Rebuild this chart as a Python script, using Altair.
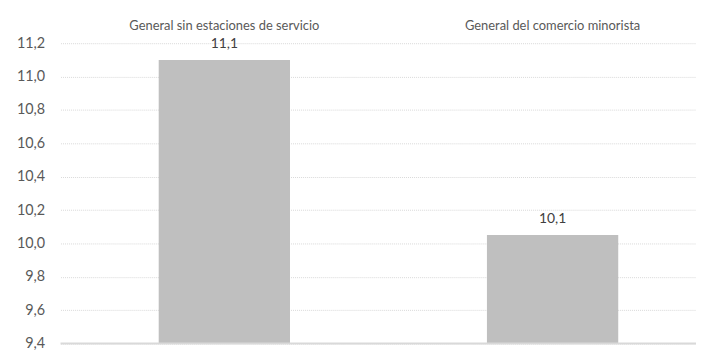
import altair as alt
import pandas as pd

categories = ["General sin estaciones de servicio", "General del comercio minorista"]
values = [11.1, 10.05]
value_labels = ["11,1", "10,1"]
y_ticks = [9.4, 9.6, 9.8, 10.0, 10.2, 10.4, 10.6, 10.8, 11.0, 11.2]

df = pd.DataFrame({"cat": categories, "val": values, "lab": value_labels})

FONT = "Lato"
GRAY_TXT = "#595959"

x_scale = alt.Scale(paddingInner=0.6, paddingOuter=0.268, align=0.558)
x_axis = alt.Axis(
    orient="top", title=None, ticks=False, domain=False, labelAngle=0,
    labelPadding=18, labelFont=FONT, labelFontSize=13, labelColor=GRAY_TXT,
    labelLimit=0, labelOverlap=False, grid=False, labelBaseline="middle",
)
y_scale = alt.Scale(domain=[9.4, 11.2], zero=False, nice=False)
y_axis = alt.Axis(
    values=y_ticks, title=None, ticks=False, domain=False,
    labelExpr="replace(format(datum.value, '.1f'), '.', ',')",
    labelPadding=16, labelFont=FONT, labelFontSize=14.5, labelColor=GRAY_TXT,
    labelOverlap=False, labelFlush=False,
    grid=True, gridColor="#d9d9d9", gridDash=[1, 1], gridWidth=1,
)

base = alt.Chart(df)

bars = base.mark_bar(color="#bfbfbf").encode(
    x=alt.X("cat:N", sort=categories, scale=x_scale, axis=x_axis),
    y=alt.Y("val:Q", scale=y_scale, axis=y_axis),
    y2=alt.datum(9.4),
)

text = base.mark_text(dy=-9, font=FONT, fontSize=14, color="#404040", baseline="bottom").encode(
    x=alt.X("cat:N", sort=categories, scale=x_scale, axis=x_axis),
    y=alt.Y("val:Q", scale=y_scale, axis=y_axis),
    text="lab:N",
)

baseline = alt.Chart(pd.DataFrame({"val": [y_ticks[0]]})).mark_rule(
    color="#d9d9d9", strokeWidth=2
).encode(y=alt.Y("val:Q", scale=y_scale, axis=y_axis))

chart = alt.layer(bars, text, baseline).properties(
    width=641, height=303,
    autosize=alt.AutoSizeParams(type="none"),
    padding={"left": 53, "top": 34, "right": 0, "bottom": 9},
).configure_view(stroke=None)

chart.save("out.html", embed_options={"renderer": "svg", "actions": False})
